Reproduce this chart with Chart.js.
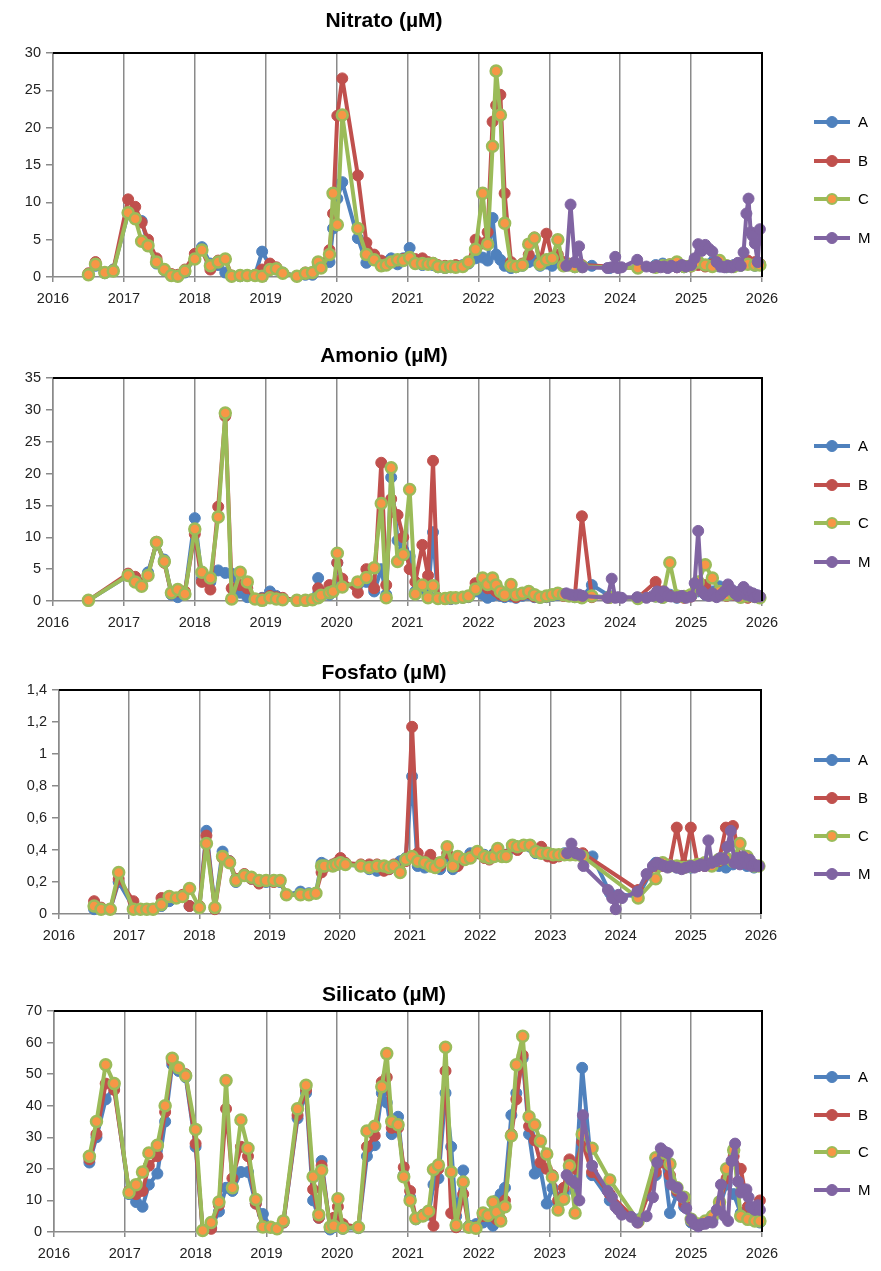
<!DOCTYPE html>
<html>
<head>
<meta charset="utf-8">
<script src="https://cdn.jsdelivr.net/npm/chart.js@4.4.1/dist/chart.umd.min.js"></script>
<style>
body{margin:0;background:#fff;width:881px;height:1271px;position:relative;overflow:hidden;font-family:"Liberation Sans",Arial,sans-serif}
canvas{position:absolute;left:0}
.titulo{position:absolute;left:0;width:768px;text-align:center;font-weight:bold;font-size:21px;color:#000;line-height:24px}
.item{position:absolute;left:812px;width:66px;height:16px}
.linea{position:absolute;left:2px;top:6px;width:36px;height:4px}
.punto{position:absolute;left:14px;top:2px;width:12px;height:12px;border-radius:50%;box-sizing:border-box}
.txt{position:absolute;left:46px;top:-1px;font-size:15px;color:#000}
</style>
</head>
<body>
<canvas id="g0" width="881" height="318" style="top:0px"></canvas>
<canvas id="g1" width="881" height="318" style="top:318px"></canvas>
<canvas id="g2" width="881" height="318" style="top:636px"></canvas>
<canvas id="g3" width="881" height="317" style="top:954px"></canvas>
<script>
// fechas de muestreo (años decimales)
var fechasABC = [2016.5, 2016.6, 2016.73, 2016.85, 2017.06, 2017.16, 2017.25, 2017.34, 2017.46, 2017.57,
  2017.67, 2017.76, 2017.86, 2018.0, 2018.1, 2018.22, 2018.33, 2018.43, 2018.52, 2018.64,
  2018.74, 2018.85, 2018.95, 2019.06, 2019.15, 2019.24, 2019.44, 2019.56, 2019.66, 2019.74,
  2019.78, 2019.9, 2019.95, 2020.01, 2020.08, 2020.3, 2020.42, 2020.53, 2020.63, 2020.7,
  2020.77, 2020.86, 2020.94, 2021.03, 2021.11, 2021.21, 2021.29, 2021.36, 2021.43, 2021.53,
  2021.61, 2021.68, 2021.78, 2021.86, 2021.96, 2022.06, 2022.13, 2022.2, 2022.25, 2022.31,
  2022.37, 2022.46, 2022.53, 2022.62, 2022.71, 2022.79, 2022.87, 2022.96, 2023.04, 2023.12,
  2023.2, 2023.28, 2023.36, 2023.46, 2023.6, 2023.85, 2024.25, 2024.5, 2024.6, 2024.7,
  2024.8, 2024.9, 2025.0, 2025.1, 2025.2, 2025.3, 2025.4, 2025.5, 2025.6, 2025.7,
  2025.8, 2025.9, 2025.97];
var fechasM = [2023.24, 2023.3, 2023.36, 2023.42, 2023.47, 2023.6, 2023.82, 2023.88, 2023.93, 2023.97,
  2024.02, 2024.15, 2024.24, 2024.37, 2024.46, 2024.52, 2024.57, 2024.62, 2024.67, 2024.72,
  2024.8, 2024.87, 2024.93, 2025.0, 2025.05, 2025.1, 2025.15, 2025.2, 2025.25, 2025.3,
  2025.36, 2025.42, 2025.47, 2025.52, 2025.57, 2025.62, 2025.66, 2025.7, 2025.74, 2025.78,
  2025.81, 2025.84, 2025.87, 2025.9, 2025.94, 2025.97];

// Nitrato
var nitratoA = [0.4, 1.5, 0.5, 1.0, 8.5, 8.0, 7.5, 4.5, 1.8, 0.9,
  0.2, 0.1, 0.6, 2.5, 4.0, 1.8, 1.6, 0.6, 0.1, 0.1,
  0.2, 0.3, 3.4, 1.5, 1.0, 0.6, 0.1, 0.3, 0.3, 1.5,
  1.2, 2.0, 6.5, 10.5, 12.7, 5.2, 1.9, 2.5, 1.8, 2.0,
  2.5, 1.7, 2.5, 3.9, 2.0, 1.6, 1.8, 1.6, 1.3, 1.2,
  1.3, 1.4, 1.6, 1.8, 2.5, 2.6, 2.2, 7.9, 3.0, 2.3,
  1.5, 1.2, 1.3, 1.5, 2.0, 2.2, 1.5, 1.8, 1.5, 2.0,
  1.5, 1.6, 1.3, 1.5, 1.5, 1.2, 1.3, 1.6, 1.8, 1.4,
  1.5, 1.3, 1.6, 1.8, 1.5, 2.0, 1.4, 1.3, 1.6, 1.5,
  1.8, 1.5, 1.7];
var nitratoB = [0.5, 2.0, 0.6, 0.9, 10.4, 9.4, 7.3, 5.0, 2.5, 1.0,
  0.4, 0.3, 1.0, 3.1, 3.6, 1.0, 2.2, 2.4, 0.2, 0.2,
  0.2, 0.2, 1.0, 1.8, 1.3, 0.5, 0.1, 0.6, 0.5, 2.0,
  1.5, 3.6, 8.5, 21.6, 26.6, 13.6, 4.6, 3.0, 2.2, 1.8,
  2.0, 2.2, 2.4, 2.6, 2.4, 2.5, 2.0, 1.9, 1.6, 1.5,
  1.4, 1.6, 1.5, 1.9, 5.0, 4.5, 6.0, 20.8, 23.0, 24.4,
  11.2, 2.0, 1.5, 1.8, 3.0, 5.3, 2.0, 5.8, 2.5, 3.0,
  2.0, 1.8, 1.5, 1.6, null, null, 1.2, 1.4, 1.5, 1.7,
  1.3, 1.5, 1.4, 1.6, 1.4, 1.7, 1.5, 1.4, 1.5, 1.8,
  2.2, 2.0, 1.8];
var nitratoC = [0.3, 1.7, 0.6, 0.8, 8.6, 7.8, 4.8, 4.2, 2.0, 1.0,
  0.2, 0.1, 0.8, 2.4, 3.6, 1.5, 2.0, 2.4, 0.1, 0.2,
  0.2, 0.2, 0.1, 1.0, 1.1, 0.5, 0.1, 0.5, 0.6, 2.0,
  1.2, 3.0, 11.2, 7.0, 21.7, 6.5, 3.0, 2.3, 1.5, 1.6,
  2.0, 2.3, 2.2, 2.6, 1.8, 1.8, 1.7, 1.8, 1.4, 1.3,
  1.4, 1.3, 1.4, 2.0, 3.7, 11.2, 4.4, 17.5, 27.6, 21.7,
  7.2, 1.5, 1.4, 1.6, 4.4, 5.2, 1.7, 2.3, 2.5, 5.0,
  1.5, 1.6, 1.4, 1.4, null, null, 1.2, 1.3, 1.5, 1.6,
  2.0, 1.4, 1.5, 2.0, 1.6, 1.4, 2.2, 1.5, 1.4, 1.6,
  1.7, 1.6, 1.6];
var nitratoM = [1.5, 9.7, 2.0, 4.1, 1.3, null, 1.2, 1.3, 2.7, 1.2,
  1.3, null, 2.3, 1.4, 1.3, 1.5, 1.3, 1.4, 1.2, 1.5,
  1.3, 1.6, 1.4, 1.6, 2.5, 4.4, 3.5, 4.3, 3.8, 3.4,
  2.0, 1.4, 1.3, 1.5, 1.3, 1.6, 1.9, 1.5, 3.3, 8.5,
  10.5, 6.0, 5.5, 4.5, 2.0, 6.4];

// Amonio
var amonioA = [0.1, null, null, null, 4.0, 3.5, 2.5, 4.5, 9.0, 6.5,
  1.0, 0.6, 1.2, 13.0, 3.5, 3.0, 4.8, 4.4, 4.3, 1.3,
  0.6, 0.3, 0.5, 1.5, 0.8, 0.3, 0.1, 0.1, 0.2, 3.6,
  1.2, 1.0, 1.5, 6.0, 2.5, 2.5, 3.0, 1.5, 5.0, 1.0,
  19.4, 9.5, 8.0, 7.0, 1.5, 2.0, 1.0, 10.8, 0.5, 0.4,
  0.3, 0.4, 0.5, 0.6, 1.5, 1.0, 0.5, 0.8, 1.2, 0.8,
  0.6, 0.7, 0.5, 0.8, 1.0, 0.6, 0.5, 0.6, 0.8, 1.0,
  1.0, 0.8, 0.6, 0.5, 2.5, 0.8, 0.4, 0.7, 0.5, 1.0,
  0.5, 0.6, 0.8, 1.5, 1.0, 1.5, 2.3, 1.0, 1.5, 0.8,
  0.6, 1.0, 0.5];
var amonioB = [0.1, null, null, null, 4.3, 3.8, 2.8, 4.0, 9.3, 6.0,
  1.2, 1.5, 1.5, 10.5, 3.0, 1.8, 14.8, 29.0, 2.0, 2.5,
  2.0, 0.3, 0.4, 0.8, 0.6, 0.5, 0.1, 0.1, 0.2, 2.0,
  1.0, 2.5, 1.8, 6.0, 3.5, 1.3, 5.0, 2.0, 21.7, 2.5,
  16.0, 13.5, 10.0, 5.0, 3.0, 8.8, 4.0, 22.0, 0.5, 0.3,
  0.4, 0.5, 0.6, 0.7, 2.8, 3.0, 2.0, 2.0, 1.5, 1.0,
  0.8, 1.0, 0.6, 1.0, 1.2, 0.7, 0.6, 0.7, 0.9, 1.1,
  0.8, 0.9, 0.7, 13.3, 0.6, 0.5, 0.5, 3.0, 1.5, 0.8,
  0.6, 0.5, 0.7, 2.0, 2.5, 1.0, 1.2, 0.8, 1.0, 0.7,
  0.5, 0.8, 0.6];
var amonioC = [0.1, null, null, null, 4.0, 3.0, 2.3, 4.0, 9.2, 6.2,
  1.3, 1.8, 1.1, 11.3, 4.5, 3.6, 13.2, 29.5, 0.3, 4.5,
  3.0, 0.3, 0.1, 0.5, 0.3, 0.2, 0.1, 0.1, 0.2, 0.5,
  0.9, 1.3, 1.5, 7.5, 2.2, 3.0, 3.7, 5.2, 15.3, 0.5,
  20.9, 6.2, 7.3, 17.5, 1.1, 2.5, 0.5, 2.4, 0.4, 0.4,
  0.5, 0.5, 0.6, 0.8, 1.9, 3.6, 2.6, 3.6, 2.5, 1.5,
  1.0, 2.6, 1.0, 1.2, 1.5, 1.0, 0.6, 0.8, 1.0, 1.2,
  1.0, 0.8, 0.7, 0.5, 0.8, 0.6, 0.4, 0.8, 0.6, 6.0,
  0.8, 0.7, 1.0, 3.0, 5.7, 3.6, 1.5, 1.0, 1.2, 0.6,
  0.8, 0.7, 0.5];
var amonioM = [1.2, 1.0, 0.9, 1.0, 0.8, null, 0.5, 3.5, 0.5, 0.6,
  0.5, null, 0.6, 0.5, 0.8, 1.5, 0.6, 1.5, 0.8, 0.7,
  0.6, 0.8, 0.5, 0.7, 2.8, 11.0, 1.5, 1.0, 0.8, 1.2,
  0.6, 1.0, 1.5, 2.6, 1.8, 1.2, 0.8, 1.6, 2.2, 1.0,
  1.5, 0.8, 1.2, 0.6, 0.9, 0.7];

// Fosfato
var fosfatoA = [0.03, 0.03, 0.03, 0.20, 0.04, 0.03, 0.03, 0.03, 0.05, 0.08,
  0.10, 0.11, 0.05, 0.04, 0.52, 0.04, 0.39, 0.33, 0.20, 0.24,
  0.22, 0.20, 0.20, 0.21, 0.20, 0.12, 0.14, 0.13, 0.13, 0.32,
  0.31, 0.30, 0.31, 0.32, 0.31, 0.30, 0.28, 0.27, 0.29, 0.28,
  0.30, 0.33, 0.35, 0.86, 0.30, 0.29, 0.30, 0.29, 0.28, 0.35,
  0.28, 0.31, 0.34, 0.38, 0.38, 0.37, 0.35, 0.38, 0.40, 0.37,
  0.37, 0.41, 0.42, 0.43, 0.42, 0.38, 0.38, 0.37, 0.37, 0.37,
  0.38, 0.37, 0.38, 0.37, 0.36, 0.13, 0.11, 0.32, 0.31, 0.30,
  0.29, 0.30, 0.29, 0.30, 0.31, 0.32, 0.30, 0.29, 0.31, 0.32,
  0.30, 0.29, 0.30];
var fosfatoB = [0.08, 0.04, 0.03, 0.22, 0.08, 0.03, 0.03, 0.03, 0.10, 0.11,
  0.10, 0.12, 0.05, 0.05, 0.49, 0.03, 0.35, 0.33, 0.22, 0.25,
  0.22, 0.19, 0.21, 0.20, 0.21, 0.12, 0.12, 0.12, 0.13, 0.26,
  0.29, 0.31, 0.32, 0.35, 0.32, 0.31, 0.31, 0.31, 0.27, 0.28,
  0.31, 0.27, 0.33, 1.17, 0.38, 0.33, 0.37, 0.32, 0.30, 0.38,
  0.30, 0.30, 0.34, 0.36, 0.38, 0.35, 0.34, 0.37, 0.39, 0.36,
  0.37, 0.42, 0.40, 0.43, 0.43, 0.40, 0.42, 0.36, 0.35, 0.36,
  0.37, 0.38, 0.38, 0.38, null, null, 0.15, 0.30, 0.30, 0.31,
  0.54, 0.31, 0.54, 0.30, 0.30, 0.31, 0.33, 0.54, 0.55, 0.35,
  0.32, 0.30, 0.30];
var fosfatoC = [0.05, 0.03, 0.03, 0.26, 0.03, 0.03, 0.03, 0.03, 0.06, 0.11,
  0.10, 0.11, 0.16, 0.04, 0.44, 0.04, 0.36, 0.32, 0.21, 0.24,
  0.23, 0.21, 0.21, 0.21, 0.21, 0.12, 0.12, 0.12, 0.13, 0.30,
  0.30, 0.30, 0.31, 0.32, 0.31, 0.30, 0.29, 0.30, 0.30, 0.29,
  0.30, 0.26, 0.34, 0.36, 0.33, 0.32, 0.30, 0.29, 0.32, 0.42,
  0.30, 0.36, 0.34, 0.35, 0.39, 0.36, 0.35, 0.36, 0.41, 0.36,
  0.36, 0.43, 0.42, 0.43, 0.43, 0.39, 0.38, 0.38, 0.37, 0.37,
  0.37, 0.37, 0.37, 0.36, null, null, 0.10, 0.22, 0.32, 0.30,
  0.30, 0.29, 0.30, 0.31, 0.32, 0.30, 0.34, 0.35, 0.33, 0.44,
  0.36, 0.30, 0.30];
var fosfatoM = [0.38, 0.44, 0.38, 0.37, 0.30, null, 0.15, 0.10, 0.03, 0.12,
  0.10, null, 0.14, 0.25, 0.30, 0.32, 0.31, 0.30, 0.29, 0.30,
  0.29, 0.28, 0.29, 0.30, 0.29, 0.30, 0.31, 0.30, 0.46, 0.32,
  0.33, 0.35, 0.34, 0.42, 0.52, 0.32, 0.35, 0.31, 0.36, 0.33,
  0.31, 0.34, 0.30, 0.31, 0.30, 0.30];

// Silicato
var silicatoA = [22, 30, 42, 46, 12, 9.5, 8, 15, 18.5, 35,
  53, 51, 49, 27, 0.5, 1.5, 6.5, 14, 13, 19,
  19, 9, 5.7, 1.5, 1.0, 3, 36, 44, 10, 4.5,
  22.5, 0.8, 1.5, 3, 1.0, 1.2, 24, 27.5, 44, 41,
  31, 36.5, 18, 11, 4, 5, 5.5, 15, 17, 44,
  27, 5, 19.5, 2, 2.5, 3, 4, 2, 10, 12,
  14, 37, 44, 55, 31, 18.5, 20, 9, 14, 9,
  12, 20, 13, 52, 18, 10, 4, 18, 24, 6,
  12, 8, 3, 2, 3, 4, 8, 15, 12, 6,
  5, 4, 3];
var silicatoB = [23, 31, 47, 45, 13, 12, 13, 21, 24, 38,
  54, 52, 50, 28, 0.5, 1.0, 8.5, 39, 17, 27,
  24, 9, 2, 1.5, 1.0, 3, 37, 45, 13.5, 4.5,
  21, 1.5, 4.5, 8, 2.5, 1.5, 27, 30.5, 47.5, 49,
  33, 33, 20.5, 13, 4.5, 5.5, 6, 2, 20, 51,
  6, 1.5, 12, 1.5, 1.5, 5, 5, 5, 4, 4,
  10, 31, 42, 56, 33.5, 29, 22, 20, 18, 10,
  14, 23, 20, 28.5, 19, 12, 3, 19, 22, 18,
  13, 9, 3.5, 2.5, 3, 5, 9, 17, 24, 20,
  8, 6, 10];
var silicatoC = [24, 35, 53, 47, 12.5, 15, 19, 25, 27.5, 40,
  55, 52, 49.5, 32.5, 0.5, 3, 9.5, 48, 14, 35.5,
  26.5, 10.3, 1.6, 1.5, 1.0, 3.5, 39, 46.5, 17.5, 5.5,
  19.5, 1.6, 2, 10.5, 1.3, 1.5, 32, 33.5, 46, 56.5,
  35, 34, 17.5, 10, 4.3, 5.1, 6.6, 19.8, 21.2, 58.5,
  19, 2.2, 15.8, 1.5, 1.2, 6, 5.2, 9.5, 6.3, 3.5,
  8, 30.5, 53, 62, 36.5, 34, 28.8, 24.7, 17.4, 7,
  10.4, 21, 6, 31, 26.5, 16.5, 3.5, 23.5, 25, 21.5,
  14, 11, 4, 2.5, 3.5, 5, 9.5, 20, 26, 5,
  4, 3.5, 3.5];
var silicatoM = [18, 16.5, 15.5, 10, 37, 21, 13, 11, 8, 7,
  5.5, 4.8, 3, 5, 11, 22, 26.5, 25.5, 25, 15,
  14, 11, 7.5, 4, 2.5, 1.8, 2.5, 2.6, 3.2, 3,
  7, 15, 5, 3.5, 22.5, 28, 16, 12.5, 13.5, 13.5,
  11, 8, 7.5, 7, 8.5, 7];

var estaciones = ['A', 'B', 'C', 'M'];
var colores = ['#4F81BD', '#C0504D', '#9BBB59', '#8064A2'];
var rellenos = ['#4F81BD', '#C0504D', '#F79646', '#8064A2'];

// cada panel: titulo, datos, eje y, y posicion del area de trazado
var paneles = [
  {titulo: 'Nitrato (µM)', series: [nitratoA, nitratoB, nitratoC, nitratoM], max: 30, paso: 5,
   top: 0, alto: 318, izq: 53, der: 762, arriba: 53, abajo: 277, tituloY: 8, leyendaY: 122, sep: 38.5},
  {titulo: 'Amonio (µM)', series: [amonioA, amonioB, amonioC, amonioM], max: 35, paso: 5,
   top: 318, alto: 318, izq: 53, der: 762, arriba: 378, abajo: 601, tituloY: 343, leyendaY: 446, sep: 38.5},
  {titulo: 'Fosfato (µM)', series: [fosfatoA, fosfatoB, fosfatoC, fosfatoM], max: 1.4, paso: 0.2,
   top: 636, alto: 318, izq: 59, der: 761, arriba: 690, abajo: 914, tituloY: 660, leyendaY: 760, sep: 38},
  {titulo: 'Silicato (µM)', series: [silicatoA, silicatoB, silicatoC, silicatoM], max: 70, paso: 10,
   top: 954, alto: 317, izq: 54, der: 762, arriba: 1011, abajo: 1232, tituloY: 982, leyendaY: 1077, sep: 37.5}
];

function puntos(fechas, valores) {
    var arr = [];
    for (var i = 0; i < fechas.length; i++) {
        arr.push({x: fechas[i], y: valores[i]});
    }
    return arr;
}

// bordes negros arriba y a la derecha del area de trazado
var bordePlot = {
    id: 'bordePlot',
    afterDraw: function (chart) {
        var a = chart.chartArea, ctx = chart.ctx;
        ctx.save();
        ctx.strokeStyle = '#000';
        ctx.lineWidth = 2;
        ctx.beginPath();
        ctx.moveTo(a.left, a.top);
        ctx.lineTo(a.right, a.top);
        ctx.lineTo(a.right, a.bottom);
        ctx.stroke();
        ctx.restore();
    }
};

Chart.defaults.font.family = '"Liberation Sans", Arial, sans-serif';
Chart.defaults.font.size = 14;
Chart.defaults.color = '#222';

paneles.forEach(function (p, k) {
    var datasets = [];
    for (var s = 0; s < 4; s++) {
        var fechas = s == 3 ? fechasM : fechasABC;
        datasets.push({
            label: estaciones[s],
            data: puntos(fechas, p.series[s]),
            borderColor: colores[s],
            backgroundColor: rellenos[s],
            pointBackgroundColor: rellenos[s],
            pointBorderColor: colores[s],
            pointBorderWidth: s == 2 ? 2.5 : 1,
            pointRadius: 5.5,
            borderWidth: 4,
            borderJoinStyle: 'round',
            borderCapStyle: 'round',
            spanGaps: true,
            tension: 0,
            clip: 8,
            order: 4 - s
        });
    }
    var abajoCanvas = p.top + p.alto;
    new Chart(document.getElementById('g' + k), {
        type: 'line',
        data: {datasets: datasets},
        options: {
            responsive: false,
            animation: false,
            layout: {padding: {left: 0, right: 881 - p.der, top: p.arriba - p.top, bottom: abajoCanvas - p.abajo - 30}},
            plugins: {legend: {display: false}, tooltip: {enabled: false}},
            scales: {
                x: {
                    type: 'linear', min: 2016, max: 2026,
                    ticks: {stepSize: 1, padding: 8, font: {size: 14.5}, callback: function (v) { return String(v); }},
                    grid: {color: '#8a8a8a', lineWidth: 1.5, tickLength: 5, tickColor: '#8a8a8a'},
                    border: {color: '#8a8a8a', width: 1.5},
                    afterFit: function (sc) { sc.height = 30; }
                },
                y: {
                    min: 0, max: p.max,
                    ticks: {stepSize: p.paso, padding: 5, font: {size: 14.5},
                        callback: function (v) { return String(+v.toFixed(1)).replace('.', ','); }},
                    grid: {drawOnChartArea: false, tickLength: 7, tickColor: '#8a8a8a', lineWidth: 1.5},
                    border: {color: '#8a8a8a', width: 1.5},
                    afterFit: function (sc) { sc.width = p.izq; }
                }
            }
        },
        plugins: [bordePlot]
    });

    // titulo y leyenda en HTML
    var t = document.createElement('div');
    t.className = 'titulo';
    t.style.top = p.tituloY + 'px';
    t.textContent = p.titulo;
    document.body.appendChild(t);
    for (var s2 = 0; s2 < 4; s2++) {
        var it = document.createElement('div');
        it.className = 'item';
        it.style.top = (p.leyendaY + s2 * p.sep - 8) + 'px';
        it.innerHTML = '<span class="linea" style="background:' + colores[s2] + '"></span>' +
            '<span class="punto" style="background:' + rellenos[s2] + ';border:' + (s2 == 2 ? 2 : 1) + 'px solid ' + colores[s2] + '"></span>' +
            '<span class="txt">' + estaciones[s2] + '</span>';
        document.body.appendChild(it);
    }
});
</script>
</body>
</html>
